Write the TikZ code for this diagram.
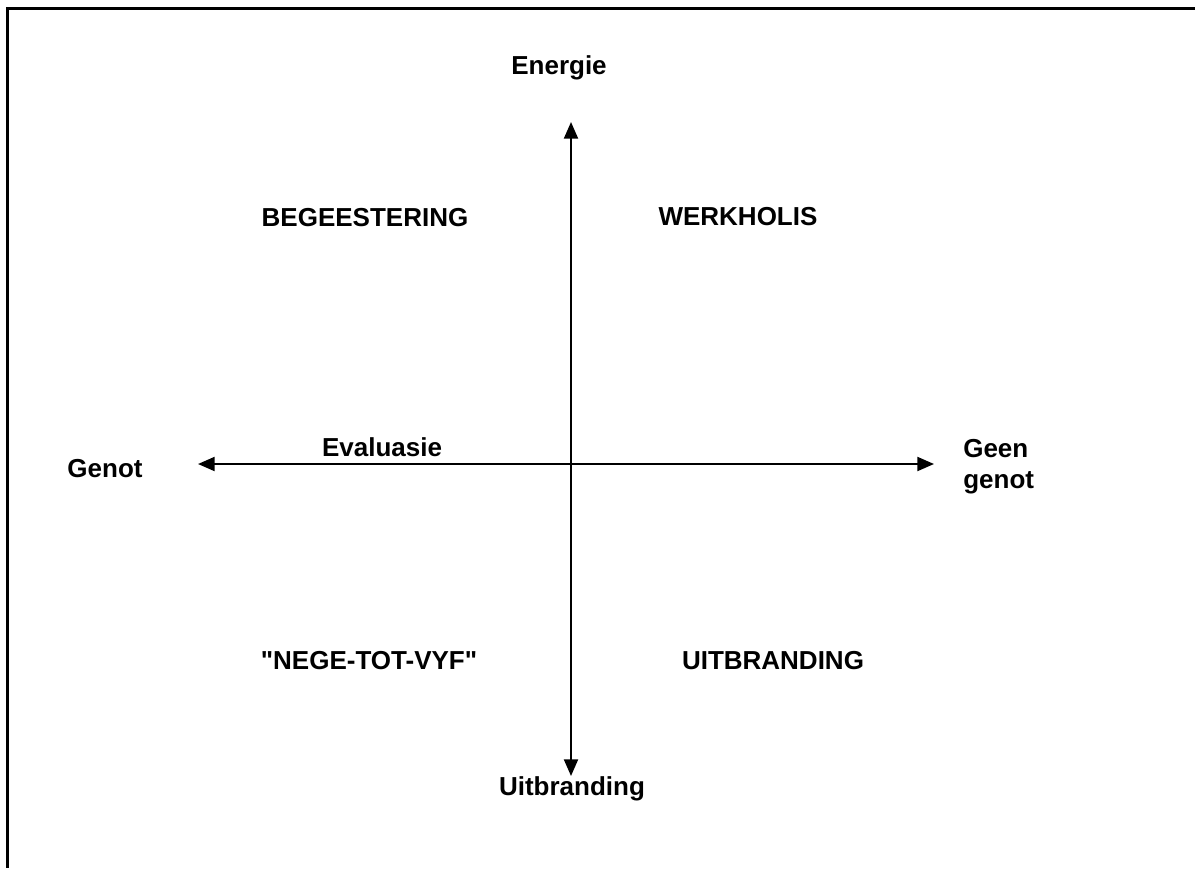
\documentclass[tikz,border=0pt]{standalone}
\usepackage{fontspec}
\setmainfont{Liberation Sans}
\newfontfamily\lsans{Liberation Sans}
\usetikzlibrary{arrows.meta}
\begin{document}
\begin{tikzpicture}[x=0.75pt,y=-0.75pt,
  lbl/.style={font=\lsans\fontsize{19.5}{23}\selectfont\bfseries, inner sep=0pt},
  axis/.style={line width=1.5pt, {Triangle[length=12.5pt,width=10.5pt]}-{Triangle[length=12.5pt,width=10.5pt]}},
  frame/.style={line width=2pt}]
\useasboundingbox (0,0) rectangle (1195,868);
% cropped frame: only top and left edges visible
\coordinate (tl) at (7.5,8.5);
\coordinate (tr) at (1195,8.5);
\coordinate (bl) at (7.5,868);
\draw[frame] (tr) -- (tl) -- (bl);
% axes end points
\coordinate (top) at (571,122);
\coordinate (bot) at (571,776);
\coordinate (left) at (198,464);
\coordinate (right) at (934,464);
\draw[axis] (bot) -- (top);
\draw[axis] (left) -- (right);
% labels
\node[lbl] (energie) at (559,68) {Energie};
\node[lbl] (uitb) at (572,789) {Uitbranding};
\node[lbl] (genot) at (105,469) {Genot};
\node[lbl, anchor=west, align=left] (geen) at (963,467) {Geen\\genot};
\node[lbl] (eval) at (382,447) {Evaluasie};
\node[lbl] (beg) at (365,218) {BEGEESTERING};
\node[lbl] (werk) at (738,217) {WERKHOLIS};
\node[lbl] (nege) at (369,661) {"NEGE-TOT-VYF"};
\node[lbl] (uitbr) at (773,661) {UITBRANDING};
\end{tikzpicture}
\end{document}
